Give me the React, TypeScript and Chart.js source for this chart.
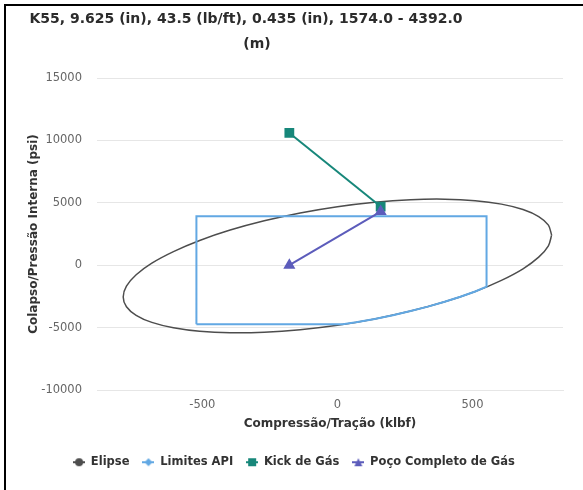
import React, { useEffect, useRef } from 'react';
import { Chart, registerables } from 'chart.js';

Chart.register(...registerables);

const TITLE_LINES = ['K55, 9.625 (in), 43.5 (lb/ft), 0.435 (in), 1574.0 - 4392.0', '(m)'];
const X_TITLE = 'Compressão/Tração (klbf)';
const Y_TITLE = 'Colapso/Pressão Interna (psi)';
const SERIES_NAMES = ['Elipse', 'Limites API', 'Kick de Gás', 'Poço Completo de Gás'];

const X_TICKS = [-500, 0, 500];
const Y_TICKS = [-10000, -5000, 0, 5000, 10000, 15000];

const ELLIPSE_X = [793, 781, 745, 687, 607, 510, 397, 271, 138, 0, -138, -271, -397, -510, -607, -687, -745, -781, -793, -781, -745, -687, -607, -510, -397, -271, -138, 0, 138, 271, 397, 510, 607, 687, 745, 781, 793];
const ELLIPSE_Y = [2420, 3207, 3895, 4463, 4893, 5173, 5294, 5252, 5049, 4690, 4187, 3556, 2814, 1985, 1093, 167, -765, -1677, -2540, -3327, -4015, -4583, -5013, -5293, -5414, -5372, -5169, -4810, -4307, -3676, -2934, -2105, -1213, -287, 645, 1557, 2420];

const API_X = [-522, -522, 552, 552, 510, 455, 397, 335, 271, 205, 138, 69, 20, -522];
const API_Y = [-4728, 3926, 3926, -1720, -2105, -2529, -2934, -3317, -3676, -4006, -4307, -4576, -4728, -4728];

const KICK_X = [-178, 160];
const KICK_Y = [10600, 4700];

const POCO_X = [-178, 160];
const POCO_Y = [0, 4300];

const X_MIN = -890;
const X_MAX = 835;
const Y_MIN = -10000;
const Y_MAX = 15000;

const COLORS = ['#4d4d4d', '#62a8e3', '#17877a', '#5c5cbb'];
const FONT = 'DejaVu Sans';

const zip = (xs: number[], ys: number[]) => xs.map((x, i) => ({ x, y: ys[i] }));

function makeIcon(color: string, shape: string): HTMLCanvasElement {
  const c = document.createElement('canvas');
  c.width = 12;
  c.height = 10;
  const ctx = c.getContext('2d')!;
  ctx.strokeStyle = color;
  ctx.fillStyle = color;
  ctx.lineWidth = 2;
  ctx.beginPath();
  ctx.moveTo(0, 5);
  ctx.lineTo(12, 5);
  ctx.stroke();
  ctx.beginPath();
  if (shape === 'circle') {
    ctx.arc(6, 5, 4, 0, Math.PI * 2);
  } else if (shape === 'diamond') {
    ctx.moveTo(6, 1);
    ctx.lineTo(10, 5);
    ctx.lineTo(6, 9);
    ctx.lineTo(2, 5);
    ctx.closePath();
  } else if (shape === 'square') {
    ctx.rect(2, 1, 8, 8);
  } else {
    ctx.moveTo(6, 1);
    ctx.lineTo(10, 9);
    ctx.lineTo(2, 9);
    ctx.closePath();
  }
  ctx.fill();
  return c;
}

const titlePlugin = {
  id: 'refTitle',
  afterDraw(chart: any) {
    const ctx = chart.ctx;
    ctx.save();
    ctx.fillStyle = '#2b2b2b';
    ctx.font = `bold 14px "${FONT}"`;
    ctx.textAlign = 'center';
    ctx.textBaseline = 'middle';
    ctx.fillText(TITLE_LINES[0], 246, 19);
    ctx.fillText(TITLE_LINES[1], 257, 44);
    ctx.restore();
  },
};

export default function App() {
  const ref = useRef<HTMLCanvasElement | null>(null);

  useEffect(() => {
    if (!ref.current) return;
    const icons = [
      makeIcon(COLORS[0], 'circle'),
      makeIcon(COLORS[1], 'diamond'),
      makeIcon(COLORS[2], 'square'),
      makeIcon(COLORS[3], 'triangle'),
    ];
    const fmt = (v: any) => String(v);
    const chart = new Chart(ref.current, {
      type: 'scatter',
      data: {
        datasets: [
          {
            label: SERIES_NAMES[0],
            data: zip(ELLIPSE_X, ELLIPSE_Y),
            showLine: true,
            borderColor: COLORS[0],
            backgroundColor: COLORS[0],
            borderWidth: 1.5,
            pointRadius: 0,
            tension: 0.3,
            order: 4,
          },
          {
            label: SERIES_NAMES[1],
            data: zip(API_X, API_Y),
            showLine: true,
            borderColor: COLORS[1],
            backgroundColor: COLORS[1],
            borderWidth: 2,
            pointRadius: 0,
            order: 3,
          },
          {
            label: SERIES_NAMES[2],
            data: zip(KICK_X, KICK_Y),
            showLine: true,
            borderColor: COLORS[2],
            backgroundColor: COLORS[2],
            borderWidth: 2,
            pointStyle: 'rect',
            pointRadius: 5.5,
            order: 2,
          },
          {
            label: SERIES_NAMES[3],
            data: zip(POCO_X, POCO_Y),
            showLine: true,
            borderColor: COLORS[3],
            backgroundColor: COLORS[3],
            borderWidth: 2,
            pointStyle: 'triangle',
            pointRadius: 5,
            order: 1,
          },
        ],
      },
      options: {
        animation: false,
        responsive: false,
        devicePixelRatio: 1,
        layout: { padding: { left: 25, right: 20, top: 78, bottom: 12 } },
        plugins: {
          title: { display: false },
          tooltip: { enabled: false },
          legend: {
            position: 'bottom',
            labels: {
              usePointStyle: true,
              pointStyleWidth: 12,
              padding: 13,
              color: '#333333',
              font: { family: FONT, size: 11.5, weight: 'bold' },
              generateLabels: () =>
                SERIES_NAMES.map((name, i) => ({
                  text: name,
                  pointStyle: icons[i] as any,
                  fillStyle: COLORS[i],
                  strokeStyle: COLORS[i],
                  lineWidth: 0,
                  hidden: false,
                  datasetIndex: i,
                  fontColor: '#333333',
                })),
            },
          },
        },
        scales: {
          x: {
            type: 'linear',
            min: X_MIN,
            max: X_MAX,
            afterBuildTicks: (s: any) => {
              s.ticks = X_TICKS.map((value) => ({ value }));
            },
            afterFit: (s: any) => {
              const lh = s.chart.legend ? s.chart.legend.height : 32;
              s.height = 490 - 390 - lh - 12;
            },
            grid: { display: false, drawTicks: false },
            border: { display: true, color: '#e6e6e6' },
            ticks: {
              padding: 8,
              color: '#666666',
              font: { family: FONT, size: 11.5 },
              callback: fmt,
              maxRotation: 0,
            },
            title: {
              display: true,
              text: X_TITLE,
              color: '#333333',
              font: { family: FONT, size: 12, weight: 'bold' },
              padding: { top: 0, bottom: 12 },
            },
          },
          y: {
            type: 'linear',
            min: Y_MIN,
            max: Y_MAX,
            afterBuildTicks: (s: any) => {
              s.ticks = Y_TICKS.map((value) => ({ value }));
            },
            afterFit: (s: any) => {
              s.width = 72;
            },
            grid: { color: '#e6e6e6', drawTicks: false },
            border: { display: false },
            ticks: {
              padding: 15,
              color: '#666666',
              font: { family: FONT, size: 11.5 },
              callback: fmt,
            },
            title: {
              display: true,
              text: Y_TITLE,
              color: '#333333',
              font: { family: FONT, size: 12, weight: 'bold' },
              padding: { top: 2, bottom: 0 },
            },
          },
        },
      },
      plugins: [titlePlugin],
    } as any);
    return () => chart.destroy();
  }, []);

  return (
    <div style={{ position: 'absolute', left: 0, top: 0, width: 583, height: 490, overflow: 'hidden', background: '#fff' }}>
      <canvas ref={ref} width={583} height={490} style={{ position: 'absolute', left: 0, top: 0, width: 583, height: 490 }} />
      <div
        style={{
          position: 'absolute',
          left: 4,
          top: 4,
          width: 700,
          height: 700,
          borderLeft: '2px solid #000',
          borderTop: '2px solid #000',
          pointerEvents: 'none',
        }}
      />
    </div>
  );
}
